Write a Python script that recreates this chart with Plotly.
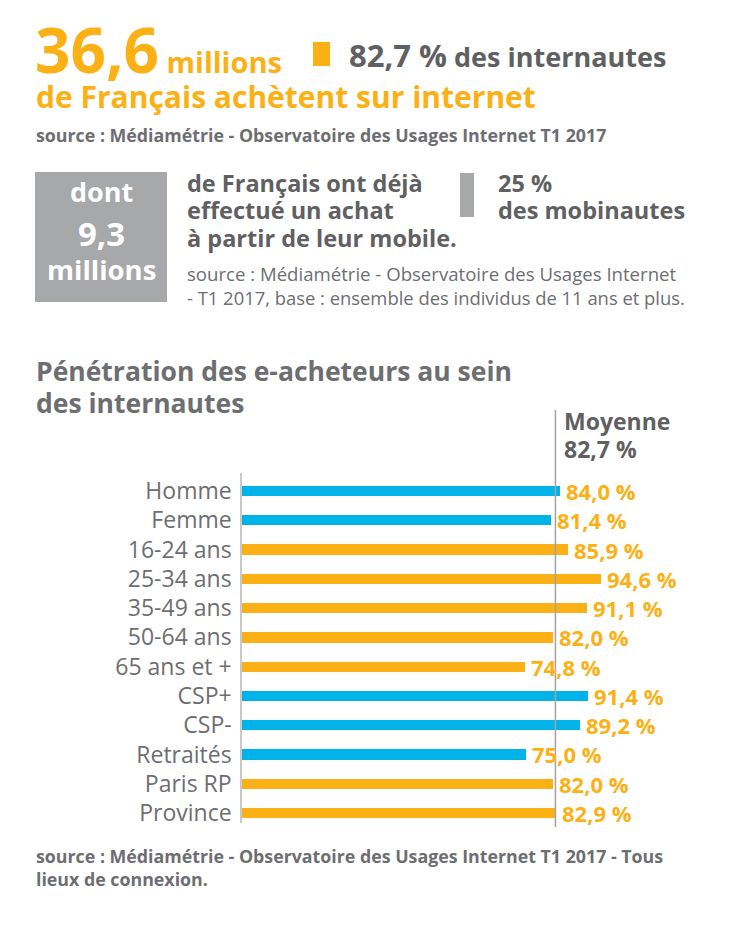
import plotly.graph_objects as go

# ---------------- data ----------------
categories = ["Homme", "Femme", "16-24 ans", "25-34 ans", "35-49 ans", "50-64 ans",
              "65 ans et +", "CSP+", "CSP-", "Retraités", "Paris RP", "Province"]
values = [84.0, 81.4, 85.9, 94.6, 91.1, 82.0, 74.8, 91.4, 89.2, 75.0, 82.0, 82.9]
groups = ["sexe", "sexe", "age", "age", "age", "age", "age",
          "csp", "csp", "csp", "region", "region"]
average = 82.7

ORANGE = "#fbb116"
BLUE = "#00b3e8"
GREY_BOX = "#a7a8aa"
DARK = "#5f6062"
MID = "#6d6e71"

group_colors = {"sexe": BLUE, "age": ORANGE, "csp": BLUE, "region": ORANGE}
bar_colors = [group_colors[g] for g in groups]
value_labels = [f"{v:.1f}".replace(".", ",") + " %" for v in values]
y_pos = list(range(len(categories)))

# page offset (body margin) compensation
OFF = 8
W, H = 730 - 2 * OFF, 926 - 2 * OFF
PL, PT = 242, 473          # plot area left/top in screen pixels
PW, PH = 379, 350
ML, MT = PL - OFF, PT - OFF
MR = W - ML - PW
MB = H - MT - PH


def fx(px):
    return (px - PL) / PW


def fy(py):
    return (PT + PH - py) / PH


fig = go.Figure()
fig.add_trace(go.Bar(
    x=values, y=y_pos, orientation="h", width=0.35,
    marker=dict(color=bar_colors, line=dict(width=0)),
    hoverinfo="skip", showlegend=False,
))

fig.update_layout(
    width=W, height=H,
    margin=dict(l=ML, r=MR, t=MT, b=MB, pad=0),
    paper_bgcolor="white", plot_bgcolor="white",
    font=dict(family="Open Sans", color=MID),
    xaxis=dict(range=[0, 100], showgrid=False, zeroline=False,
               showticklabels=False, showline=False, fixedrange=True),
    yaxis=dict(range=[11.34, -0.615], tickvals=y_pos, ticktext=categories,
               showgrid=False, zeroline=False, showline=True,
               linecolor="#c9c9c9", linewidth=1.5, ticks="",
               ticklabelstandoff=4,
               tickfont=dict(family="Open Sans", size=23, color=MID),
               fixedrange=True),
    bargap=0,
)

shapes = []
# mean line
shapes.append(dict(type="line", xref="x", yref="paper", x0=average, x1=average,
                   y0=fy(827), y1=fy(410), line=dict(color="#a3a3a3", width=1.5)))
# orange square in header
shapes.append(dict(type="rect", xref="paper", yref="paper", x0=fx(313), x1=fx(330),
                   y0=fy(66), y1=fy(42), fillcolor=ORANGE, line=dict(width=0)))
# grey box
shapes.append(dict(type="rect", xref="paper", yref="paper", x0=fx(35), x1=fx(167),
                   y0=fy(302), y1=fy(172), fillcolor=GREY_BOX, line=dict(width=0)))
# grey small bar
shapes.append(dict(type="rect", xref="paper", yref="paper", x0=fx(460), x1=fx(474),
                   y0=fy(217), y1=fy(173), fillcolor=GREY_BOX, line=dict(width=0)))
fig.update_layout(shapes=shapes)

annotations = []

# value labels next to the bars
for v, yp, lab in zip(values, y_pos, value_labels):
    annotations.append(dict(text=f"<b>{lab}</b>", x=v, y=yp, xref="x", yref="y",
                            xanchor="left", yanchor="middle", xshift=4, showarrow=False,
                            font=dict(family="Open Sans", size=22, color=ORANGE)))


def txt(text, x, y, size, color, bold=True, anchor="left"):
    t = f"<b>{text}</b>" if bold else text
    annotations.append(dict(text=t, x=fx(x), y=fy(y), xref="paper", yref="paper",
                            xanchor=anchor, yanchor="middle", showarrow=False,
                            font=dict(family="Open Sans", size=size, color=color)))


# header
annotations.append(dict(
    text="<b><span style='font-size:62px'>36,6</span> <span style='font-size:29px'>millions</span></b>",
    x=fx(33), y=fy(49), xref="paper", yref="paper", xanchor="left", yanchor="middle",
    showarrow=False, font=dict(family="Open Sans", size=29, color=ORANGE)))
annotations.append(dict(
    text="<b><span style='font-size:31px'>82,7 %</span> des internautes</b>",
    x=fx(347), y=fy(55), xref="paper", yref="paper", xanchor="left", yanchor="middle",
    showarrow=False, font=dict(family="Open Sans", size=27, color=DARK)))
txt("de Français achètent sur internet", 34, 96, 30, ORANGE)
txt("source : Médiamétrie - Observatoire des Usages Internet T1 2017", 34, 135, 17.8, MID)

# grey box texts
txt("dont", 101, 191, 27, "white", anchor="center")
txt("9,3", 101, 233, 33, "white", anchor="center")
txt("millions", 101, 269, 27.5, "white", anchor="center")

txt("de Français ont déjà", 185, 183, 23.5, DARK)
txt("effectué un achat", 185, 210, 23.5, DARK)
txt("à partir de leur mobile.", 185, 238, 23.5, DARK)
txt("25 %", 496, 183, 23.5, DARK)
txt("des mobinautes", 496, 210, 23.5, DARK)
txt("source : Médiamétrie - Observatoire des Usages Internet", 185, 273, 18.6, MID, bold=False)
txt("- T1 2017, base : ensemble des individus de 11 ans et plus.", 185, 297, 18.4, MID, bold=False)

# chart title
txt("Pénétration des e-acheteurs au sein", 34, 371, 26.5, MID)
txt("des internautes", 34, 403, 26.5, MID)
txt("Moyenne", 562, 421, 23, DARK)
txt("82,7 %", 562, 449, 23, DARK)

# footer
txt("source : Médiamétrie - Observatoire des Usages Internet T1 2017 - Tous", 34, 856, 17.8, MID)
txt("lieux de connexion.", 34, 879, 17.8, MID)

fig.update_layout(annotations=annotations)
fig.write_html("out.html")
